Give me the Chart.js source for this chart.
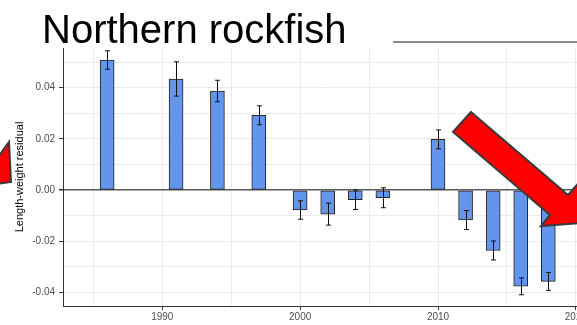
<!DOCTYPE html>
<html>
<head>
<meta charset="utf-8">
<script src="https://cdn.jsdelivr.net/npm/chart.js@4/dist/chart.umd.min.js"></script>
<style>
  html, body { margin: 0; padding: 0; background: #fff; overflow: hidden; }
  #wrap { position: relative; width: 588px; height: 325px; }
</style>
</head>
<body>
<div id="wrap"><canvas id="rockfishChart"></canvas></div>
<script>
// Aleutian Islands survey years and length-weight residuals
const years = [1986, 1991, 1994, 1997, 2000, 2002, 2004, 2006, 2010, 2012, 2014, 2016, 2018];
const residuals = [0.0508, 0.0434, 0.0387, 0.0292, -0.0078, -0.0094, -0.0038, -0.0030, 0.0198, -0.0117, -0.0236, -0.0376, -0.0357];
const errors = [0.0036, 0.0067, 0.0042, 0.0037, 0.0036, 0.0043, 0.0038, 0.0039, 0.0037, 0.0037, 0.0037, 0.0033, 0.0035];
const yTicks = [-0.04, -0.02, 0.00, 0.02, 0.04];
const xTicks = [1990, 2000, 2010, 2020];

const tickVal = c => (c && c.tick) ? c.tick.value : NaN;
const isMajorY = v => yTicks.some(t => Math.abs(t - v) < 1e-9);

// error bars drawn through the chart scales
const errorBars = {
    id: "errorBars",
    afterDatasetsDraw(chart) {
        const { ctx, scales: { x, y } } = chart;
        ctx.save();
        ctx.strokeStyle = "#111";
        ctx.lineWidth = 1;
        years.forEach((yr, i) => {
            const px = Math.round(x.getPixelForValue(yr)) + 0.5;
            const top = y.getPixelForValue(residuals[i] + errors[i]);
            const bot = y.getPixelForValue(residuals[i] - errors[i]);
            ctx.beginPath();
            ctx.moveTo(px, top); ctx.lineTo(px, bot);
            ctx.moveTo(px - 2.5, top); ctx.lineTo(px + 2.5, top);
            ctx.moveTo(px - 2.5, bot); ctx.lineTo(px + 2.5, bot);
            ctx.stroke();
        });
        ctx.restore();
    }
};

// slide decorations: title, rule and red arrows
const slideBits = {
    id: "slideBits",
    afterDraw(chart) {
        const ctx = chart.ctx;
        ctx.save();
        ctx.fillStyle = "#000";
        ctx.font = "40px 'Liberation Sans', Arial, sans-serif";
        ctx.textBaseline = "alphabetic";
        ctx.fillText("Northern rockfish", 42, 43);

        ctx.strokeStyle = "#8c8c8c";
        ctx.lineWidth = 2;
        ctx.beginPath();
        ctx.moveTo(393, 42); ctx.lineTo(600, 42);
        ctx.stroke();

        ctx.fillStyle = "#ff0000";
        ctx.strokeStyle = "#3a3a3a";
        ctx.lineWidth = 2;
        ctx.lineJoin = "miter";
        const arrows = [
            [[471, 112], [568, 195], [592, 168], [596, 222], [541, 226], [550, 215], [453, 132]],
            [[-4, 160], [9, 142], [11, 182], [-4, 184]]
        ];
        arrows.forEach(pts => {
            ctx.beginPath();
            pts.forEach((p, i) => i ? ctx.lineTo(p[0], p[1]) : ctx.moveTo(p[0], p[1]));
            ctx.closePath();
            ctx.fill();
            ctx.stroke();
        });
        ctx.restore();
    }
};

document.addEventListener("DOMContentLoaded", function () {
    const ctx = document.getElementById("rockfishChart").getContext("2d");
    new Chart(ctx, {
        type: "bar",
        data: {
            datasets: [{
                data: years.map((yr, i) => ({ x: yr, y: residuals[i] })),
                backgroundColor: "#6495ED",
                borderColor: "#222",
                borderWidth: 1,
                borderSkipped: false,
                barThickness: 14
            }]
        },
        plugins: [errorBars, slideBits],
        options: {
            responsive: true,
            maintainAspectRatio: false,
            animation: false,
            layout: { padding: { top: 48, left: 0, right: 0, bottom: 0 } },
            plugins: {
                legend: { display: false },
                tooltip: { enabled: false }
            },
            scales: {
                x: {
                    type: "linear",
                    offset: false,
                    min: 1982.8,
                    max: 2020.2,
                    afterBuildTicks: s => {
                        s.ticks = [1985, 1990, 1995, 2000, 2005, 2010, 2015, 2020].map(v => ({ value: v }));
                    },
                    afterFit: s => { s.height = 19; },
                    ticks: {
                        color: "#4d4d4d",
                        font: { family: "'Liberation Sans', Arial", size: 10 },
                        padding: 1,
                        maxRotation: 0,
                        autoSkip: false,
                        callback: v => xTicks.includes(v) ? String(v) : ""
                    },
                    grid: {
                        offset: false,
                        color: "#ebebeb",
                        lineWidth: 1,
                        tickLength: 4,
                        tickColor: c => xTicks.includes(tickVal(c)) ? "#333" : "rgba(0,0,0,0)"
                    },
                    border: { color: "#333", width: 1 }
                },
                y: {
                    min: -0.0453,
                    max: 0.0555,
                    afterBuildTicks: s => {
                        s.ticks = [-0.04, -0.03, -0.02, -0.01, 0, 0.01, 0.02, 0.03, 0.04, 0.05].map(v => ({ value: v }));
                    },
                    afterFit: s => { s.width = 63; },
                    title: {
                        display: true,
                        text: "Length-weight residual",
                        color: "#000",
                        font: { family: "'Liberation Sans', Arial", size: 11 },
                        padding: { top: 13, bottom: 0 }
                    },
                    ticks: {
                        color: "#4d4d4d",
                        font: { family: "'Liberation Sans', Arial", size: 10 },
                        padding: 4,
                        autoSkip: false,
                        callback: v => isMajorY(v) ? v.toFixed(2) : ""
                    },
                    grid: {
                        color: c => Math.abs(tickVal(c)) < 1e-9 ? "#5a5a5a" : "#ebebeb",
                        lineWidth: c => Math.abs(tickVal(c)) < 1e-9 ? 1.5 : 1,
                        tickLength: 4,
                        tickColor: c => isMajorY(tickVal(c)) ? "#333" : "rgba(0,0,0,0)"
                    },
                    border: { color: "#333", width: 1 }
                }
            }
        }
    });
});
</script>
</body>
</html>
